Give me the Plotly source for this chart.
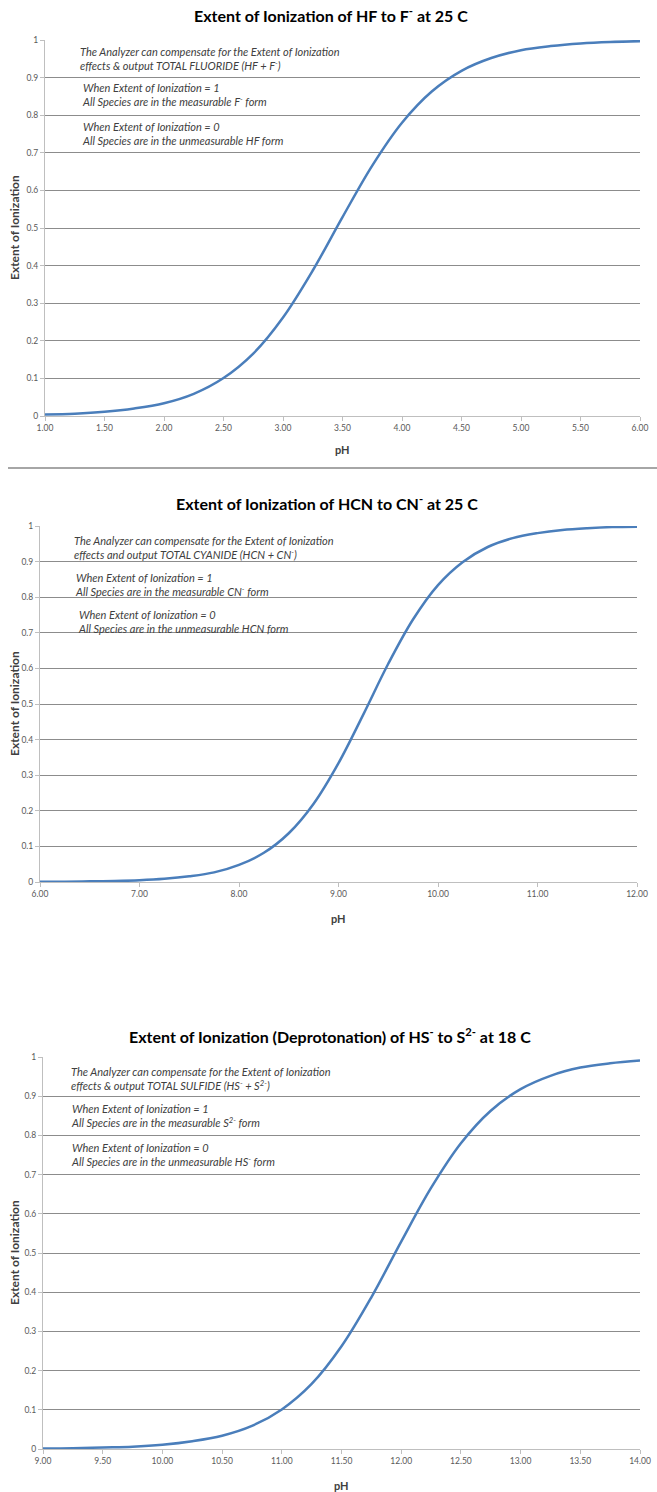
import plotly.graph_objects as go

# ---------------- data ----------------
ph_hf = [1.00, 1.25, 1.50, 1.75, 2.00, 2.25, 2.50, 2.75, 3.00, 3.25, 3.50, 3.75,
         4.00, 4.25, 4.50, 4.75, 5.00, 5.25, 5.50, 5.75, 6.00]
ion_hf = [0.004, 0.006, 0.011, 0.020, 0.034, 0.059, 0.101, 0.166, 0.262, 0.387, 0.529,
          0.666, 0.780, 0.863, 0.918, 0.952, 0.973, 0.984, 0.991, 0.995, 0.997]

ph_hcn = [6.00, 6.25, 6.50, 6.75, 7.00, 7.25, 7.50, 7.75, 8.00, 8.25, 8.50, 8.75,
          9.00, 9.25, 9.50, 9.75, 10.00, 10.25, 10.50, 10.75, 11.00, 11.25, 11.50,
          11.75, 12.00]
ion_hcn = [0.0005, 0.001, 0.002, 0.003, 0.005, 0.009, 0.016, 0.027, 0.048, 0.082,
           0.137, 0.220, 0.334, 0.471, 0.613, 0.738, 0.834, 0.899, 0.941, 0.966,
           0.980, 0.989, 0.994, 0.997, 0.998]

ph_hs = [9.00, 9.25, 9.50, 9.75, 10.00, 10.25, 10.50, 10.75, 11.00, 11.25, 11.50,
         11.75, 12.00, 12.25, 12.50, 12.75, 13.00, 13.25, 13.50, 13.75, 14.00]
ion_hs = [0.001, 0.002, 0.004, 0.006, 0.011, 0.020, 0.034, 0.059, 0.101, 0.166, 0.262,
          0.387, 0.529, 0.666, 0.780, 0.863, 0.918, 0.952, 0.973, 0.984, 0.991]

titles = [
    "<b>Extent of Ionization of HF to F<sup>-</sup> at 25 C</b>",
    "<b>Extent of Ionization of HCN to CN<sup>-</sup> at 25 C</b>",
    "<b>Extent of Ionization (Deprotonation) of HS<sup>-</sup> to S<sup>2-</sup> at 18 C</b>",
]
notes = [
    ["The Analyzer can compensate for the Extent of Ionization<br>effects & output TOTAL FLUORIDE (HF + F<sup>-</sup>)",
     "When Extent of Ionization = 1<br>All Species are in the measurable F<sup>-</sup> form",
     "When Extent of Ionization = 0<br>All Species are in the unmeasurable HF form"],
    ["The Analyzer can compensate for the Extent of Ionization<br>effects and output TOTAL CYANIDE (HCN + CN<sup>-</sup>)",
     "When Extent of Ionization = 1<br>All Species are in the measurable CN<sup>-</sup> form",
     "When Extent of Ionization = 0<br>All Species are in the unmeasurable HCN form"],
    ["The Analyzer can compensate for the Extent of Ionization<br>effects & output TOTAL SULFIDE (HS<sup>-</sup> + S<sup>2-</sup>)",
     "When Extent of Ionization = 1<br>All Species are in the measurable S<sup>2-</sup> form",
     "When Extent of Ionization = 0<br>All Species are in the unmeasurable HS<sup>-</sup> form"],
]
x_ranges = [[1, 6], [6, 12], [9, 14]]
x_dticks = [0.5, 1.0, 0.5]
y_title = "Extent of Ionization"
x_title = "pH"

# ---------------- layout geometry (pixels) ----------------
W, H = 657, 1492
def px(x):
    return x / W
def py(y):
    return 1 - y / H

panels = [
    dict(left=45, right=640, top=40, bottom=416, title_x=331, title_y=14, xlab_y=450,
         note_x=[78, 80, 80], note_y=[58, 95, 134]),
    dict(left=40, right=637, top=526, bottom=882, title_x=327, title_y=503, xlab_y=918,
         note_x=[72, 73, 76], note_y=[547, 584, 622]),
    dict(left=43, right=640, top=1057, bottom=1449, title_x=330, title_y=1035, xlab_y=1485,
         note_x=[69, 69, 69], note_y=[1078, 1115, 1154]),
]

FONT = "Lato, Open Sans, sans-serif"
LINE_COLOR = "#4A7EBB"
GRID = "#8C8C8C"
AXIS = "#BFBFBF"
TICK_FONT = dict(family=FONT, size=8.5, color="#595959")

fig = go.Figure()
series = [(ph_hf, ion_hf), (ph_hcn, ion_hcn), (ph_hs, ion_hs)]
annotations = []
layout_axes = {}
for i, ((xs, ys), p) in enumerate(zip(series, panels)):
    n = "" if i == 0 else str(i + 1)
    fig.add_trace(go.Scatter(x=xs, y=ys, mode="lines",
                             line=dict(color=LINE_COLOR, width=2.5, shape="spline", smoothing=1.0),
                             xaxis="x" + n, yaxis="y" + n, showlegend=False,
                             hoverinfo="x+y"))
    layout_axes["xaxis" + n] = dict(
        domain=[px(p["left"]), px(p["right"])], anchor="y" + n, automargin=False,
        range=x_ranges[i], dtick=x_dticks[i], tick0=x_ranges[i][0], tickformat=".2f",
        showgrid=False, zeroline=False, showline=True, linecolor=AXIS, linewidth=1,
        ticks="outside", ticklen=4, tickcolor=AXIS, tickfont=TICK_FONT, fixedrange=True,
    )
    layout_axes["yaxis" + n] = dict(
        domain=[py(p["bottom"]), py(p["top"])], anchor="x" + n, automargin=False,
        range=[0, 1], dtick=0.1, tick0=0,
        showgrid=True, gridcolor=GRID, gridwidth=1, zeroline=False,
        showline=True, linecolor=AXIS, linewidth=1,
        ticks="outside", ticklen=4, tickcolor=AXIS, tickfont=TICK_FONT, fixedrange=True,
    )
    # title
    annotations.append(dict(text=titles[i], xref="paper", yref="paper",
                            x=px(p["title_x"]), y=py(p["title_y"]),
                            xanchor="center", yanchor="middle", showarrow=False,
                            font=dict(family=FONT, size=16, color="#000000")))
    # x-axis title
    annotations.append(dict(text="<b>" + x_title + "</b>", xref="paper", yref="paper",
                            x=px((p["left"] + p["right"]) / 2), y=py(p["xlab_y"]),
                            xanchor="center", yanchor="middle", showarrow=False,
                            font=dict(family=FONT, size=11, color="#404040")))
    # y-axis title
    annotations.append(dict(text="<b>" + y_title + "</b>", xref="paper", yref="paper",
                            x=px(14), y=py((p["top"] + p["bottom"]) / 2),
                            xanchor="center", yanchor="middle", showarrow=False, textangle=-90,
                            font=dict(family=FONT, size=12, color="#404040")))
    # notes
    for t, nx, ny in zip(notes[i], p["note_x"], p["note_y"]):
        annotations.append(dict(text="<i>" + t + "</i>", xref="paper", yref="paper",
                                x=px(nx), y=py(ny), xanchor="left", yanchor="middle",
                                align="left", showarrow=False,
                                font=dict(family=FONT, size=11, color="#404040")))

fig.update_layout(
    width=W, height=H, margin=dict(l=0, r=0, t=0, b=0, pad=0, autoexpand=False),
    paper_bgcolor="white", plot_bgcolor="white",
    annotations=annotations,
    shapes=[dict(type="line", xref="paper", yref="paper",
                 x0=px(8), x1=1, y0=py(468), y1=py(468),
                 line=dict(color="#A6A6A6", width=2))],
    **layout_axes,
)

fig.write_html("out.html", config={"displayModeBar": False},
               post_script="document.body.style.margin='0';document.body.style.overflow='hidden';")
